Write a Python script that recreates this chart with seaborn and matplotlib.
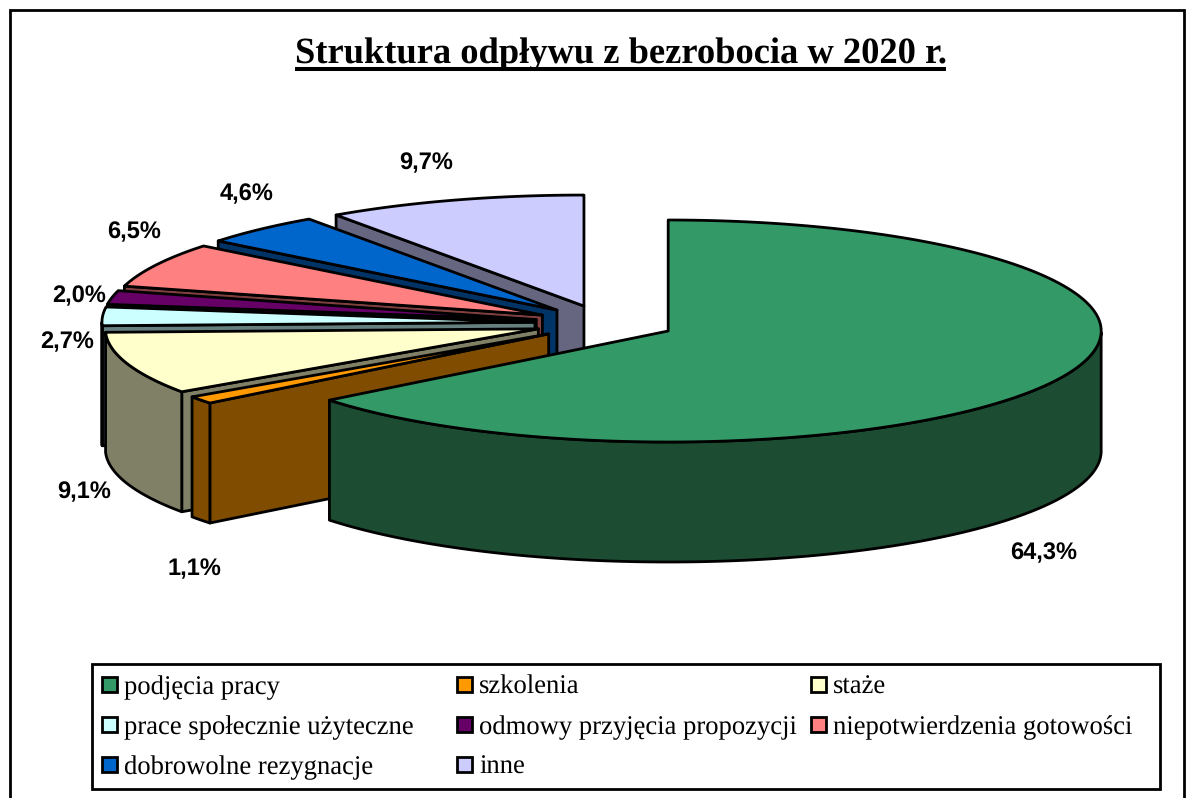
import numpy as np
import seaborn as sns
import matplotlib
matplotlib.use("Agg")
import matplotlib.pyplot as plt
from matplotlib.patches import Rectangle

# dane z wykresu
categories = ["podjęcia pracy", "szkolenia", "staże", "prace społecznie użyteczne",
              "odmowy przyjęcia propozycji", "niepotwierdzenia gotowości",
              "dobrowolne rezygnacje", "inne"]
shares = [64.3, 1.1, 9.1, 2.7, 2.0, 6.5, 4.6, 9.7]
top_colors = ["#339966", "#FF9900", "#FFFFCC", "#CCFFFF", "#660066", "#FF8080", "#0066CC", "#CCCCFF"]
side_colors = ["#1C4D33", "#804D00", "#808066", "#668080", "#330033", "#804040", "#003366", "#666680"]
title = "Struktura odpływu z bezrobocia w 2020 r."

# geometria "3D" w pikselach
CX, CY = 605.0, 323.2
RX, RY = 433.0, 111.0
DEPTH = 120.0
EXPLODE = 0.162
LW = 2.0

label_xy = [(1044, 553), (194, 569), (84, 492), (67, 342), (79, 296), (134, 232), (247, 194), (426, 163)]
legend_x = [101.5, 456.5, 810.5]
legend_text_x = [124, 479, 833]
legend_swatch_y = [684, 724, 764]
legend_base_y = [694, 734, 774]

sns.set_theme(style="white")
plt.rcParams["font.family"] = ["Liberation Serif", "DejaVu Sans"]
plt.rcParams["text.hinting"] = "no_hinting"

fig = plt.figure(figsize=(11.94, 7.98), dpi=100)
ax = fig.add_axes([0, 0, 1, 1])
ax.set_xlim(0, 1194)
ax.set_ylim(798, 0)
ax.axis("off")


def poly(xs, ys, color, z):
    ax.fill(xs, ys, facecolor=color, edgecolor="black", lw=LW, joinstyle="round", zorder=z)


# ramka calego wykresu
ax.add_patch(Rectangle((10, 10), 1174, 800, fc="white", ec="black", lw=LW, zorder=0))

fractions = np.array(shares) / sum(shares)
ends = np.cumsum(fractions) * 2 * np.pi
starts = ends - fractions * 2 * np.pi

# rysowanie od tylu: inne -> podjecia pracy
for i in range(len(shares) - 1, -1, -1):
    a0, a1 = starts[i], ends[i]
    mid = (a0 + a1) / 2
    ax0 = CX + EXPLODE * RX * np.sin(mid)
    ay0 = CY - EXPLODE * RY * np.cos(mid)
    t = np.linspace(a0, a1, 200)
    rim_x = ax0 + RX * np.sin(t)
    rim_y = ay0 - RY * np.cos(t)
    z = 10 + (len(shares) - i) * 3
    # sciana od frontu - tylko przy krawedzi poczatkowej wycinkow po lewej
    if i > 0:
        poly([ax0, rim_x[0], rim_x[0], ax0], [ay0, rim_y[0], rim_y[0] + DEPTH, ay0 + DEPTH], side_colors[i], z)
    # boczna powierzchnia luku, tylko widoczna dolna czesc
    front = np.cos(t) <= 0
    if front.any():
        fx, fy = rim_x[front], rim_y[front]
        poly(np.r_[fx, fx[::-1]], np.r_[fy, fy[::-1] + DEPTH], side_colors[i], z + 1)
    poly(np.r_[ax0, rim_x], np.r_[ay0, rim_y], top_colors[i], z + 2)

# etykiety procentowe
for val, (lx, ly) in zip(shares, label_xy):
    ax.text(lx, ly, f"{val:.1f}%".replace(".", ","), ha="center", va="center",
            fontsize=17, fontweight="bold", family="Liberation Sans", color="black", zorder=60)

# tytul z podkresleniem
ttl = ax.text(620.5, 63, title, ha="center", va="baseline", fontsize=26.3, fontweight="bold",
              color="black", zorder=60)
fig.canvas.draw()
box = ttl.get_window_extent().transformed(ax.transData.inverted())
ax.plot([box.x0, box.x1], [68.7, 68.7], color="black", lw=2.9, solid_capstyle="butt", zorder=60)

# legenda
ax.add_patch(Rectangle((92, 664), 1068, 124.5, fc="white", ec="black", lw=LW, zorder=50))
for n, name in enumerate(categories):
    col = n % 3
    row = n // 3
    ax.add_patch(Rectangle((legend_x[col], legend_swatch_y[row] - 7.5), 15, 15, fc=top_colors[n],
                           ec="black", lw=LW, zorder=55))
    ax.text(legend_text_x[col], legend_base_y[row], name, ha="left", va="baseline", fontsize=19.15,
            color="black", zorder=60)

fig.savefig("out.png", dpi=100)
